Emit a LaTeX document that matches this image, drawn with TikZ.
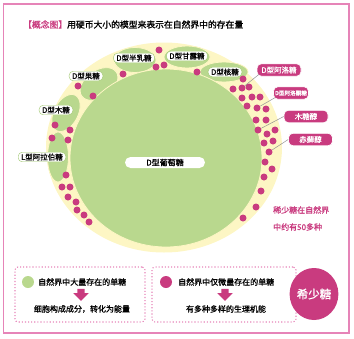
\documentclass[tikz,border=0pt]{standalone}
\usepackage{fontspec}
\newfontfamily\cjk{Noto Sans CJK SC}
\newfontfamily\cjkb[FakeBold=1.2]{Noto Sans CJK SC}
\usetikzlibrary{shapes.geometric,shapes.arrows}
\definecolor{framepink}{HTML}{E684B8}
\definecolor{rosedot}{HTML}{C93B7F}
\definecolor{leafgreen}{HTML}{B9D88E}
\definecolor{creamy}{HTML}{FDF6C4}
\definecolor{edgegreen}{HTML}{9DC66B}
\tikzset{
  sugarlabel/.style={draw=edgegreen, fill=white, rounded corners=4pt, inner xsep=3pt, inner ysep=1.3pt, font=\cjkb\fontsize{7.5}{8}\selectfont},
  rarelabel/.style={draw=white, line width=0.6pt, fill=rosedot, text=white, rounded corners=4.5pt, minimum width=44pt, minimum height=12.5pt, inner sep=1pt, font=\cjkb\fontsize{7.5}{8}\selectfont},
  coin/.style={ellipse, fill=leafgreen, draw=creamy, line width=0.8pt, inner sep=0},
  raredot/.style={circle, fill=rosedot, minimum size=7pt, inner sep=0},
  pointer/.style={draw=gray!85, line width=0.5pt},
  notebox/.style={draw=framepink, dotted, line width=1.1pt, rounded corners=3pt, minimum height=55pt},
  downarrow/.style={single arrow, fill=rosedot, rotate=-90, inner sep=3.5pt, minimum height=12pt, single arrow head extend=4pt},
  notetext/.style={font=\cjkb\fontsize{8}{9}\selectfont, inner sep=0},
}
\begin{document}
\begin{tikzpicture}[x=1pt, y=-1pt]
  \useasboundingbox (0,0) rectangle (354,338);
  \draw[framepink, line width=1.5pt] (3.5,4) rectangle (349,333);

  % title
  \node[anchor=west, inner sep=0, font=\fontsize{8.8}{9}\selectfont] (title) at (23,24.5)
    {\textcolor{rosedot}{\cjkb 【概念图】}\cjkb 用硬币大小的模型来表示在自然界中的存在量};

  % coins
  \fill[creamy] (164,147.5) ellipse [x radius=118, y radius=105];
  \node[coin, minimum width=42pt, minimum height=25pt] (galcoin) at (135,60) {};
  \node[coin, minimum width=46pt, minimum height=22pt] (mancoin) at (187,57) {};
  \node[coin, minimum width=48pt, minimum height=20pt] (ribcoin) at (224,72) {};
  \node[coin, minimum width=42pt, minimum height=27pt, rotate=35] (frucoin) at (99,84) {};
  \node[coin, minimum width=40pt, minimum height=24pt, rotate=62] (xylcoin) at (66,113) {};
  \node[coin, minimum width=21pt, minimum height=50pt] (aracoin) at (58,157) {};
  \node[coin, minimum width=192pt, minimum height=178pt] (glucoin) at (166,158) {};

  % rare sugar dots
  \foreach \px/\py in {159/50, 156/67, 164/65, 123/74, 78/86, 93/96, 197/72, 243/79,
      55/125, 70/130, 52/138, 68/140, 66/175, 62/187, 70/187, 68/197, 76/202, 77/210, 84/215, 89/222,
      233/89, 249/87, 242/98, 252/97, 260/97, 247/106, 266/109, 256/120, 266/120,
      267/134, 275/130, 264/143, 273/141, 265/162, 272/169, 264/177, 261/191, 256/207, 243/218}
    \node[raredot] at (\px,\py) {};
  \node[raredot] (alloseDot) at (242,88) {};
  \node[raredot] (psicoseDot) at (257,108) {};
  \node[raredot] (xylitolDot) at (258,130) {};
  \node[raredot] (erythritolDot) at (269,152) {};

  % sugar labels
  \node[sugarlabel] (gal) at (134,58) {D型半乳糖};
  \node[sugarlabel] (man) at (187,56) {D型甘露糖};
  \node[sugarlabel] (rib) at (225,72) {D型核糖};
  \node[sugarlabel] (fru) at (86,76) {D型果糖};
  \node[sugarlabel] (xyl) at (56,110) {D型木糖};
  \node[sugarlabel] (ara) at (42,157) {L型阿拉伯糖};
  \node[sugarlabel, draw=none, minimum width=80pt, minimum height=11pt, rounded corners=5.5pt, font=\cjkb\fontsize{8}{9}\selectfont] (glu) at (165,162.5) {D型葡萄糖};

  % rare sugar labels
  \node[rarelabel] (allose) at (279,70) {D型阿洛糖};
  \node[rarelabel, minimum width=35pt, font=\cjkb\fontsize{5.6}{6}\selectfont] (psicose) at (291,93) {D型阿洛酮糖};
  \node[rarelabel] (xylitol) at (306,116.5) {木糖醇};
  \node[rarelabel] (erythritol) at (310.5,139.5) {赤藓醇};
  \draw[pointer] (allose.south west) ++(2,-2) -- (alloseDot);
  \draw[pointer] (psicose.south west) ++(2,-2) -- (psicoseDot);
  \draw[pointer] (xylitol.west) -- (xylitolDot);
  \draw[pointer] (erythritol.west) -- (erythritolDot);

  \node[anchor=west, align=left, inner sep=0, text=rosedot, font=\cjkb\fontsize{8}{17}\selectfont] (count) at (273,218.5)
    {稀少糖在自然界\\中约有50多种};

  % notes
  \node[notebox, minimum width=130pt] (commonbox) at (80,294.5) {};
  \node[circle, fill=leafgreen, minimum size=12pt, inner sep=0] (commondot) at (28,282) {};
  \node[notetext, anchor=west] (commonsrc) at (38,282) {自然界中大量存在的单糖};
  \node[downarrow] (commonarrow) at (81,293) {};
  \node[notetext] (commonuse) at (82,309) {细胞构成成分，转化为能量};

  \node[notebox, minimum width=144pt] (rarebox) at (224,294.5) {};
  \node[circle, fill=rosedot, minimum size=12pt, inner sep=0] (raremark) at (166,282) {};
  \node[notetext, anchor=west] (raresrc) at (178,282) {自然界中仅微量存在的单糖};
  \node[downarrow] (rarearrow) at (225,293) {};
  \node[notetext] (rareuse) at (226,309) {有多种多样的生理机能};

  \node[ellipse, fill=rosedot, minimum width=45pt, minimum height=52pt, inner sep=0, text=white, font=\cjkb\fontsize{11.5}{12}\selectfont] (rarename) at (314,294) {希少糖};
\end{tikzpicture}
\end{document}
